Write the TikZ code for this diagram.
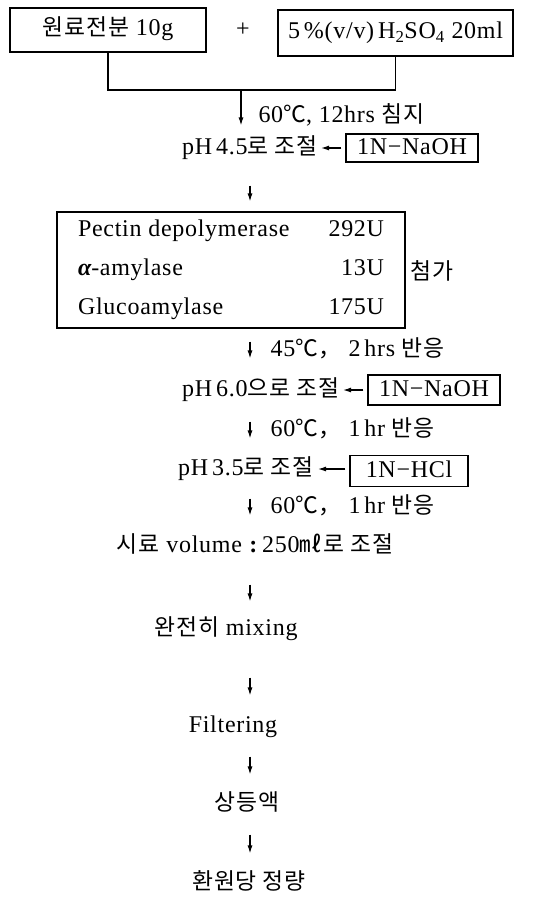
\documentclass[tikz,border=0pt]{standalone}
\usepackage{fontspec}
\setmainfont{Liberation Serif}[LetterSpace=3]
\newfontfamily\kr{Noto Sans CJK KR}[Scale=0.95,LetterSpace=4]
\newcommand{\ko}[1]{{\kr #1}}
\usetikzlibrary{arrows.meta,positioning}

\begin{document}
\begin{tikzpicture}[x=1pt,y=-1pt,line width=1.1pt,
  every node/.style={font=\fontsize{24}{28}\selectfont},
  stage/.style={inner sep=0pt,text height=17pt,text depth=5pt},
  box node/.style={draw,inner sep=0pt,text height=17pt,text depth=5pt},
  flow/.style={-{Latex[length=8pt,width=5pt]},line width=1.2pt}]

  \useasboundingbox (0,0) rectangle (549,899);

  % Starting materials
  \node[box node,minimum width=196pt,minimum height=44pt] (raw) at (108,30) {\ko{원료전분} 10g};
  \node (plus) at (243,30) {+};
  \node[box node,minimum width=235pt,minimum height=46pt] (acid) at (395.5,33)
    {5\,\%(v/v)\,H\textsubscript{2}SO\textsubscript{4} 20ml};
  \coordinate (merge) at (241,90);
  \coordinate (ax) at (250,0);

  % Process steps
  \node[stage,anchor=west] (t1) at (258,116) {60\ko{℃}, 12hrs \ko{침지}};
  \node[stage,anchor=east] (ph45) at (318,148) {pH\,4.5\ko{로 조절}};
  \node[box node,minimum width=132pt,minimum height=28pt] (naoh1) at (412,148) {1N−NaOH};
  \node[box node,minimum width=348pt,minimum height=116pt] (enz) at (231,270) {%
    \begin{tabular*}{306pt}{@{}l@{\extracolsep{\fill}}r@{}}
      Pectin depolymerase & 292U\\[11pt]
      {\bfseries\itshape α}-amylase & 13U\\[11pt]
      Glucoamylase & 175U
    \end{tabular*}};
  \node[stage,anchor=west] (add) at (410,273) {\ko{첨가}};
  \node[stage,anchor=west] (t2) at (270,350) {45\ko{℃，} 2\,hrs \ko{반응}};
  \node[stage,anchor=east] (ph60) at (340,390) {pH\,6.0\ko{으로 조절}};
  \node[box node,minimum width=132pt,minimum height=30pt] (naoh2) at (434,390) {1N−NaOH};
  \node[stage,anchor=west] (t3) at (270,430) {60\ko{℃，} 1\,hr \ko{반응}};
  \node[stage,anchor=east] (ph35) at (314,469) {pH\,3.5\ko{로 조절}};
  \node[box node,minimum width=118pt,minimum height=31pt] (hcl) at (409,471) {1N−HCl};
  \node[stage,anchor=west] (t4) at (270,507) {60\ko{℃，} 1\,hr \ko{반응}};
  \node[stage] (sample) at (255,546) {\ko{시료} volume \textbf{:}\,250\ko{㎖로 조절}};
  \node[stage] (mix) at (226,629) {\ko{완전히} mixing};
  \node[stage] (filt) at (233,726) {Filtering};
  \node[stage] (sup) at (247,804) {\ko{상등액}};
  \node[stage] (quant) at (249,883) {\ko{환원당 정량}};

  % Joining the two inputs
  \draw (raw.south) |- (merge) -| (acid.south);
  \draw[flow,shorten <=1pt,shorten >=11pt] (merge) -- (merge |- ph45.north);

  % Reagents added
  \draw[flow,shorten <=4pt,shorten >=3pt] (naoh1) -- (ph45);
  \draw[flow,shorten <=4pt,shorten >=3pt] (naoh2) -- (ph60);
  \draw[flow,shorten <=4pt,shorten >=4pt] (hcl.west |- ph35) -- (ph35);

  % Main line
  \draw[flow,shorten <=26pt,shorten >=10pt] (ph45.south -| ax) -- (enz.north -| ax);
  \draw[flow,shorten <=13pt,shorten >=20pt] (enz.south -| ax) -- (ph60.north -| ax);
  \draw[flow,shorten <=20pt,shorten >=19pt] (ph60.south -| ax) -- (ph35.north -| ax);
  \draw[flow,shorten <=18pt,shorten >=19pt] (ph35.south -| ax) -- (sample.north -| ax);
  \draw[flow,shorten <=27pt,shorten >=16pt] (sample.south -| ax) -- (mix.north -| ax);
  \draw[flow,shorten <=37pt,shorten >=19pt] (mix.south -| ax) -- (filt.north -| ax);
  \draw[flow,shorten <=19pt,shorten >=18pt] (filt.south -| ax) -- (sup.north -| ax);
  \draw[flow,shorten <=19pt,shorten >=18pt] (sup.south -| ax) -- (quant.north -| ax);

\end{tikzpicture}
\end{document}
